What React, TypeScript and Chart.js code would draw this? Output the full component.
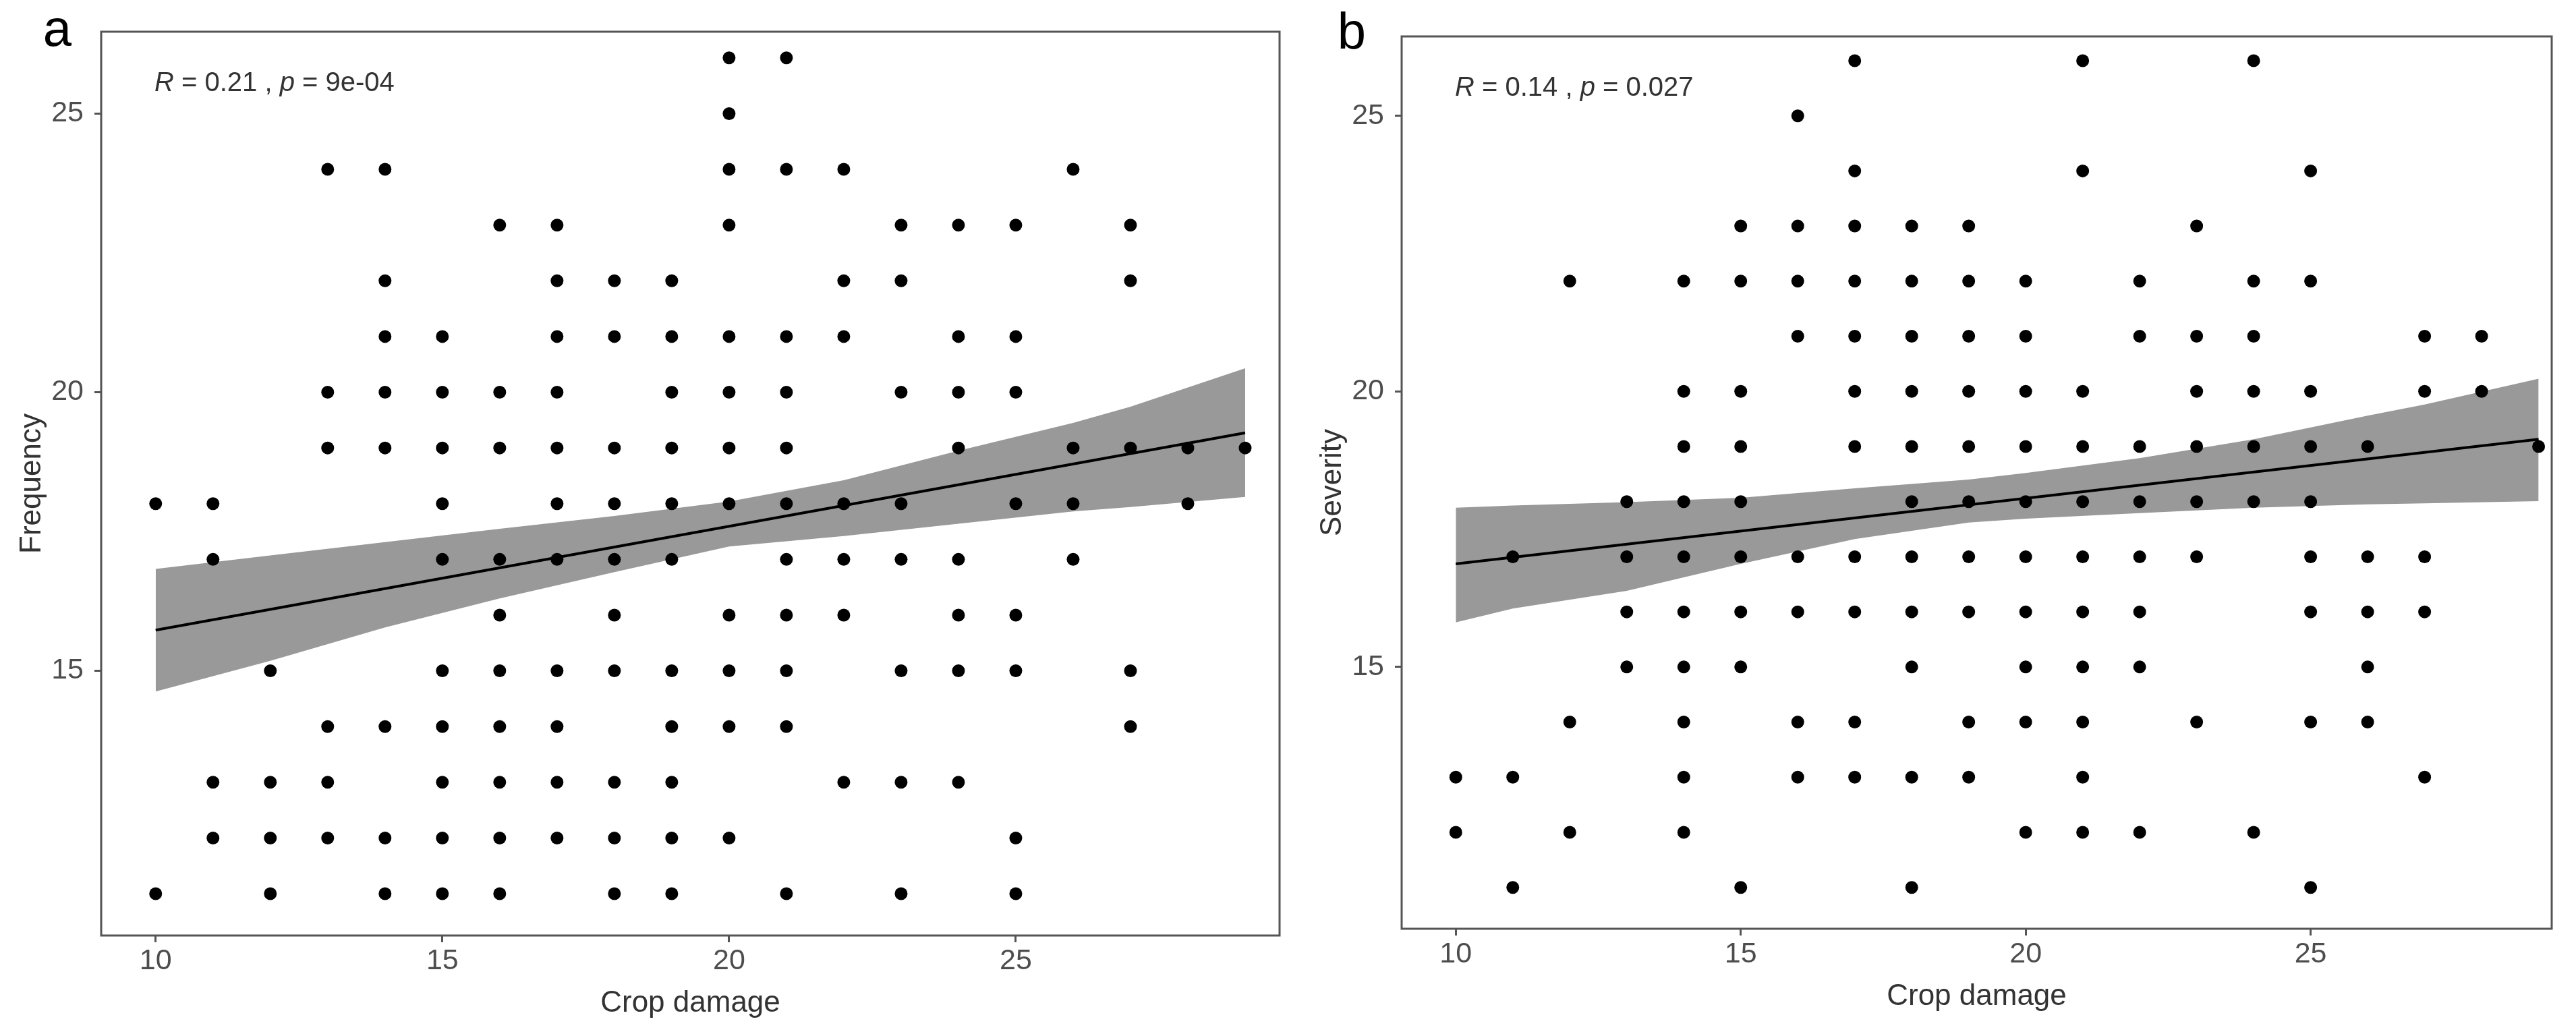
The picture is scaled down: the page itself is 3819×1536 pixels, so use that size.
import React, { useEffect, useRef } from "react";
import { Chart, registerables } from "chart.js";

Chart.register(...registerables);

// ---------- data ----------
const cropDamage = [10, 11, 12, 13, 14, 15, 16, 17, 18, 19, 20, 21, 22, 23, 24, 25, 26, 27, 28, 29];

// panel a: Frequency values observed at each crop-damage value
const frequencyAtDamage = [
  [18, 11],
  [18, 17, 13, 12],
  [15, 13, 12, 11],
  [24, 20, 19, 14, 13, 12],
  [24, 22, 21, 20, 19, 14, 12, 11],
  [21, 20, 19, 18, 17, 15, 14, 13, 12, 11],
  [23, 20, 19, 17, 16, 15, 14, 13, 12, 11],
  [23, 22, 21, 20, 19, 18, 17, 15, 14, 13, 12],
  [22, 21, 19, 18, 17, 16, 15, 13, 12, 11],
  [22, 21, 20, 19, 18, 17, 15, 14, 13, 12, 11],
  [26, 25, 24, 23, 21, 20, 19, 18, 16, 15, 14, 12],
  [26, 24, 21, 20, 19, 18, 17, 16, 15, 14, 11],
  [24, 22, 21, 18, 17, 16, 13],
  [23, 22, 20, 18, 17, 15, 13, 11],
  [23, 21, 20, 19, 17, 16, 15, 13],
  [23, 21, 20, 18, 16, 15, 12, 11],
  [24, 19, 18, 17],
  [23, 22, 19, 15, 14],
  [19, 18],
  [19],
];

// panel b: Severity values observed at each crop-damage value
const severityAtDamage = [
  [13, 12],
  [17, 13, 11],
  [22, 14, 12],
  [18, 17, 16, 15],
  [22, 20, 19, 18, 17, 16, 15, 14, 13, 12],
  [23, 22, 20, 19, 18, 17, 16, 15, 11],
  [25, 23, 22, 21, 17, 16, 14, 13],
  [26, 24, 23, 22, 21, 20, 19, 17, 16, 14, 13],
  [23, 22, 21, 20, 19, 18, 17, 16, 15, 13, 11],
  [23, 22, 21, 20, 19, 18, 17, 16, 14, 13],
  [22, 21, 20, 19, 18, 17, 16, 15, 14, 12],
  [26, 24, 20, 19, 18, 17, 16, 15, 14, 13, 12],
  [22, 21, 19, 18, 17, 16, 15, 12],
  [23, 21, 20, 19, 18, 17, 14],
  [26, 22, 21, 20, 19, 18, 12],
  [24, 22, 20, 19, 18, 17, 16, 14, 11],
  [19, 17, 16, 15, 14],
  [21, 20, 17, 16, 13],
  [21, 20],
  [19],
];

// fitted regression lines
const fitX = [10, 29];
const fitFrequency = [15.73, 19.27];
const fitSeverity = [16.87, 19.13];

// confidence bands
const bandFrequencyX = [10, 12, 14, 16, 18, 20, 22, 24, 26, 27, 29];
const bandFrequencyLower = [14.63, 15.18, 15.78, 16.3, 16.77, 17.23, 17.42, 17.64, 17.86, 17.94, 18.12];
const bandFrequencyUpper = [16.83, 17.07, 17.31, 17.55, 17.78, 18.04, 18.42, 18.95, 19.45, 19.74, 20.43];

const bandSeverityX = [10, 11, 13, 15, 17, 19, 20, 22, 24, 26, 27, 29];
const bandSeverityLower = [15.81, 16.06, 16.38, 16.87, 17.32, 17.62, 17.69, 17.79, 17.89, 17.95, 17.97, 18.01];
const bandSeverityUpper = [17.89, 17.93, 17.99, 18.07, 18.24, 18.4, 18.52, 18.79, 19.13, 19.56, 19.76, 20.23];

const xTickValues = [10, 15, 20, 25];
const yTickValues = [15, 20, 25];

const statsA = { r: "0.21", p: "9e-04" };
const statsB = { r: "0.14", p: "0.027" };

// ---------- styles ----------
const FONT = "'Liberation Sans', Arial, Helvetica, sans-serif";
const BORDER_COLOR = "#555555";
const TICK_COLOR = "#4d4d4d";
const TITLE_COLOR = "#333333";
const BAND_COLOR = "#999999";
const TICK_SIZE = 43;
const TITLE_SIZE = 44;
const STAT_SIZE = 40;
const LETTER_SIZE = 76;

const overlayPlugin = {
  id: "overlay",
  afterDatasetsDraw(chart: any, _args: any, opts: any) {
    const { ctx, chartArea } = chart;
    const { left, top, right, bottom } = chartArea;
    ctx.save();
    ctx.strokeStyle = BORDER_COLOR;
    ctx.lineWidth = 3;
    ctx.strokeRect(left, top, right - left, bottom - top);

    ctx.fillStyle = TITLE_COLOR;
    ctx.textBaseline = "alphabetic";
    ctx.textAlign = "left";
    let x = left + opts.statX;
    const y = top + opts.statY;
    const parts: [string, boolean][] = [
      ["R", true],
      [` = ${opts.r} , `, false],
      ["p", true],
      [` = ${opts.p}`, false],
    ];
    for (const [t, italic] of parts) {
      ctx.font = `${italic ? "italic " : ""}${STAT_SIZE}px ${FONT}`;
      ctx.fillText(t, x, y);
      x += ctx.measureText(t).width;
    }

    ctx.font = `${LETTER_SIZE}px ${FONT}`;
    ctx.fillStyle = "#000000";
    ctx.textAlign = "center";
    ctx.fillText(opts.letter, opts.letterX, opts.letterY);
    ctx.restore();
  },
};

type PanelProps = {
  canvasLeft: number;
  canvasWidth: number;
  pad: { left: number; top: number; right: number; bottom: number };
  xMax: number;
  yMax: number;
  columns: number[][];
  fitY: number[];
  bandX: number[];
  bandLower: number[];
  bandUpper: number[];
  yTitle: string;
  stats: { r: string; p: string };
  letter: string;
  letterX: number;
  letterY: number;
};

function Panel(props: PanelProps) {
  const ref = useRef<HTMLCanvasElement | null>(null);

  useEffect(() => {
    if (!ref.current) return;
    const points: { x: number; y: number }[] = [];
    cropDamage.forEach((xv, i) => {
      props.columns[i].forEach((yv) => points.push({ x: xv, y: yv }));
    });
    const fit = fitX.map((xv, i) => ({ x: xv, y: props.fitY[i] }));
    const upper = props.bandX.map((xv, i) => ({ x: xv, y: props.bandUpper[i] }));
    const lower = props.bandX.map((xv, i) => ({ x: xv, y: props.bandLower[i] }));

    const chart = new Chart(ref.current, {
      type: "scatter",
      data: {
        datasets: [
          {
            data: points,
            backgroundColor: "#000000",
            borderWidth: 0,
            borderColor: "rgba(0,0,0,0)",
            pointRadius: 9.5,
            pointHoverRadius: 9.5,
          },
          {
            data: fit,
            showLine: true,
            borderColor: "#000000",
            borderWidth: 4,
            pointRadius: 0,
            fill: false,
          },
          {
            data: upper,
            showLine: true,
            borderColor: "rgba(0,0,0,0)",
            borderWidth: 1,
            pointRadius: 0,
            backgroundColor: BAND_COLOR,
            fill: "+1",
          },
          {
            data: lower,
            showLine: true,
            borderColor: "rgba(0,0,0,0)",
            borderWidth: 1,
            pointRadius: 0,
            fill: false,
          },
        ] as any,
      },
      options: {
        animation: false,
        responsive: false,
        maintainAspectRatio: false,
        events: [],
        layout: { padding: props.pad },
        plugins: {
          legend: { display: false },
          tooltip: { enabled: false },
          overlay: {
            statX: 79,
            statY: 88,
            r: props.stats.r,
            p: props.stats.p,
            letter: props.letter,
            letterX: props.letterX,
            letterY: props.letterY,
          },
        } as any,
        scales: {
          x: {
            type: "linear",
            min: 9.05,
            max: props.xMax,
            afterBuildTicks: (s: any) => {
              s.ticks = xTickValues.map((v) => ({ value: v }));
            },
            afterFit: (s: any) => {
              s.height = 149;
            },
            border: { display: false },
            grid: {
              display: true,
              drawOnChartArea: false,
              drawTicks: true,
              tickLength: 10,
              color: BORDER_COLOR,
              lineWidth: 3,
            },
            ticks: {
              autoSkip: false,
              maxRotation: 0,
              padding: 2,
              color: TICK_COLOR,
              font: { family: FONT, size: TICK_SIZE },
              callback: (v: any) => String(v),
            },
            title: {
              display: true,
              text: "Crop damage",
              color: TITLE_COLOR,
              font: { family: FONT, size: TITLE_SIZE },
              padding: { top: 0, bottom: 22 },
            },
          },
          y: {
            type: "linear",
            min: 10.25,
            max: props.yMax,
            afterBuildTicks: (s: any) => {
              s.ticks = yTickValues.map((v) => ({ value: v }));
            },
            afterFit: (s: any) => {
              s.width = 150;
            },
            border: { display: false },
            grid: {
              display: true,
              drawOnChartArea: false,
              drawTicks: true,
              tickLength: 10,
              color: BORDER_COLOR,
              lineWidth: 3,
            },
            ticks: {
              autoSkip: false,
              padding: 16,
              color: TICK_COLOR,
              font: { family: FONT, size: TICK_SIZE },
              callback: (v: any) => String(v),
            },
            title: {
              display: true,
              text: props.yTitle,
              color: TITLE_COLOR,
              font: { family: FONT, size: TITLE_SIZE },
              padding: { top: 21, bottom: 0 },
            },
          },
        },
      } as any,
      plugins: [overlayPlugin as any],
    });
    return () => chart.destroy();
  }, []);

  return (
    <canvas
      ref={ref}
      width={props.canvasWidth}
      height={1536}
      style={{
        position: "absolute",
        left: props.canvasLeft,
        top: 0,
        width: props.canvasWidth,
        height: 1536,
        display: "block",
      }}
    />
  );
}

export default function App() {
  return (
    <div
      style={{
        position: "absolute",
        left: 0,
        top: 0,
        width: 3819,
        height: 1536,
        background: "#ffffff",
        overflow: "hidden",
      }}
    >
      <Panel
        canvasLeft={0}
        canvasWidth={1910}
        pad={{ left: 0, top: 47, right: 13, bottom: 0 }}
        xMax={29.6}
        yMax={26.47}
        columns={frequencyAtDamage}
        fitY={fitFrequency}
        bandX={bandFrequencyX}
        bandLower={bandFrequencyLower}
        bandUpper={bandFrequencyUpper}
        yTitle="Frequency"
        stats={statsA}
        letter="a"
        letterX={85}
        letterY={68}
      />
      <Panel
        canvasLeft={1910}
        canvasWidth={1909}
        pad={{ left: 18, top: 54, right: 36, bottom: 10 }}
        xMax={29.23}
        yMax={26.44}
        columns={severityAtDamage}
        fitY={fitSeverity}
        bandX={bandSeverityX}
        bandLower={bandSeverityLower}
        bandUpper={bandSeverityUpper}
        yTitle="Severity"
        stats={statsB}
        letter="b"
        letterX={94}
        letterY={72}
      />
    </div>
  );
}
